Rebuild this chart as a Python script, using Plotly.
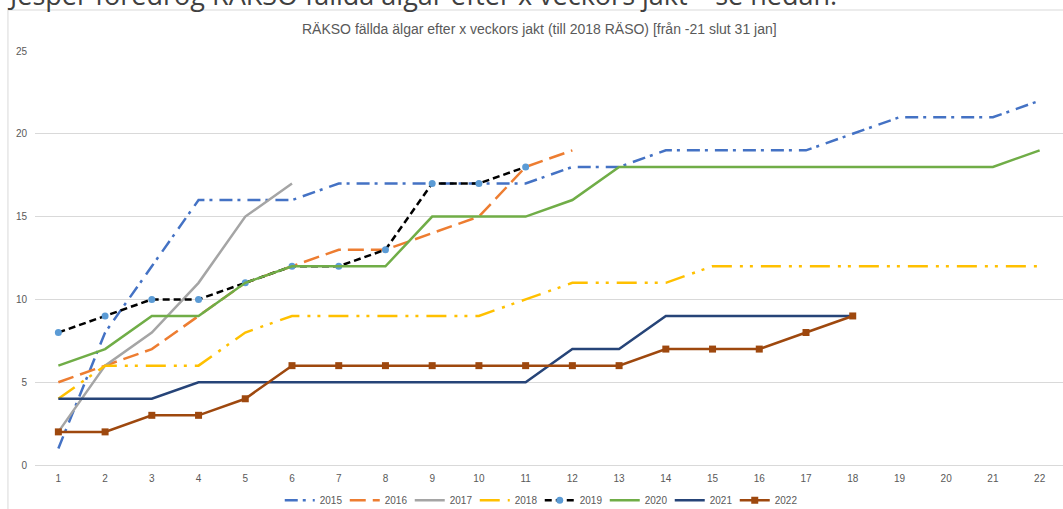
import plotly.graph_objects as go

weeks = list(range(1, 23))
tick_labels = [str(w) for w in weeks]

y2015 = [1, 8, 12, 16, 16, 16, 17, 17, 17, 17, 17, 18, 18, 19, 19, 19, 19, 20, 21, 21, 21, 22]
y2016 = [5, 6, 7, 9, 11, 12, 13, 13, 14, 15, 18, 19]
y2017 = [2, 6, 8, 11, 15, 17]
y2018 = [4, 6, 6, 6, 8, 9, 9, 9, 9, 9, 10, 11, 11, 11, 12, 12, 12, 12, 12, 12, 12, 12]
y2019 = [8, 9, 10, 10, 11, 12, 12, 13, 17, 17, 18]
y2020 = [6, 7, 9, 9, 11, 12, 12, 12, 15, 15, 15, 16, 18, 18, 18, 18, 18, 18, 18, 18, 18, 19]
y2021 = [4, 4, 4, 5, 5, 5, 5, 5, 5, 5, 5, 7, 7, 9, 9, 9, 9, 9]
y2022 = [2, 2, 3, 3, 4, 6, 6, 6, 6, 6, 6, 6, 6, 7, 7, 7, 8, 9]

title_text = "RÄKSO fällda älgar efter x veckors jakt (till 2018 RÄSO) [från -21 slut 31 jan]"
header_text = "Jesper föredrog RÄKSO fällda älgar efter x veckors jakt – se nedan."

FONT = "Liberation Sans Narrow, Liberation Sans, sans-serif"

series = [
    ("2015", y2015, dict(color="#4472C4", width=2.5, dash="13px,5px,3px,7px"), None),
    ("2016", y2016, dict(color="#ED7D31", width=2.5, dash="16px,7px"), None),
    ("2017", y2017, dict(color="#A5A5A5", width=2.5), None),
    ("2018", y2018, dict(color="#FFC000", width=2.5, dash="20px,8px,3px,7px,3px,8px"), None),
    ("2019", y2019, dict(color="#000000", width=2.5, dash="7px,4px"),
     dict(symbol="circle", size=7, color="#5B9BD5", line=dict(width=0))),
    ("2020", y2020, dict(color="#70AD47", width=2.5), None),
    ("2021", y2021, dict(color="#264478", width=2.5), None),
    ("2022", y2022, dict(color="#9E480E", width=2.5),
     dict(symbol="square", size=7, color="#9E480E", line=dict(width=0))),
]

fig = go.Figure()
for name, ys, line, marker in series:
    kw = dict(x=weeks[:len(ys)], y=ys, name=name, line=line,
              mode="lines+markers" if marker else "lines")
    if marker:
        kw["marker"] = marker
    fig.add_trace(go.Scatter(**kw))

fig.update_layout(
    width=1063, height=509,
    margin=dict(l=35, r=0, t=51, b=44, autoexpand=False),
    paper_bgcolor="white", plot_bgcolor="white",
    font=dict(family=FONT, color="#595959", size=10),
    showlegend=True,
    legend=dict(orientation="h", x=0.491, xanchor="center", y=-0.085, yanchor="middle",
                font=dict(size=10, color="#595959"), entrywidth=20, tracegroupgap=0,
                itemwidth=30),
    xaxis=dict(range=[0.5, 22.5], tickmode="array", tickvals=weeks, ticktext=tick_labels,
               showgrid=False, zeroline=False, showline=True, linecolor="#D9D9D9",
               linewidth=1, ticks="", ticklabelstandoff=4,
               tickfont=dict(size=10, color="#595959")),
    yaxis=dict(range=[0, 25], tickvals=[0, 5, 10, 15, 20, 25], showgrid=True,
               gridcolor="#D9D9D9", gridwidth=1, zeroline=False, showline=False,
               ticks="", ticklabelstandoff=7, tickfont=dict(size=10, color="#595959")),
    shapes=[dict(type="rect", xref="paper", yref="paper", x0=-0.0263, x1=1.2,
                 y0=-0.3, y1=1.099, line=dict(color="#D9D9D9", width=1),
                 fillcolor="rgba(0,0,0,0)", layer="below")],
    annotations=[
        dict(text=title_text, xref="paper", yref="paper", x=0.491, y=1.053,
             xanchor="center", yanchor="middle", showarrow=False,
             font=dict(size=14, color="#595959", family=FONT)),
        dict(text=header_text, xref="paper", yref="paper", x=-0.0292, y=1.087,
             xanchor="left", yanchor="bottom", showarrow=False,
             font=dict(size=27, color="#404040", family="Open Sans")),
    ],
)

fig.write_html("out.html", config={"displayModeBar": False},
               post_script="document.body.style.margin='0px';")
